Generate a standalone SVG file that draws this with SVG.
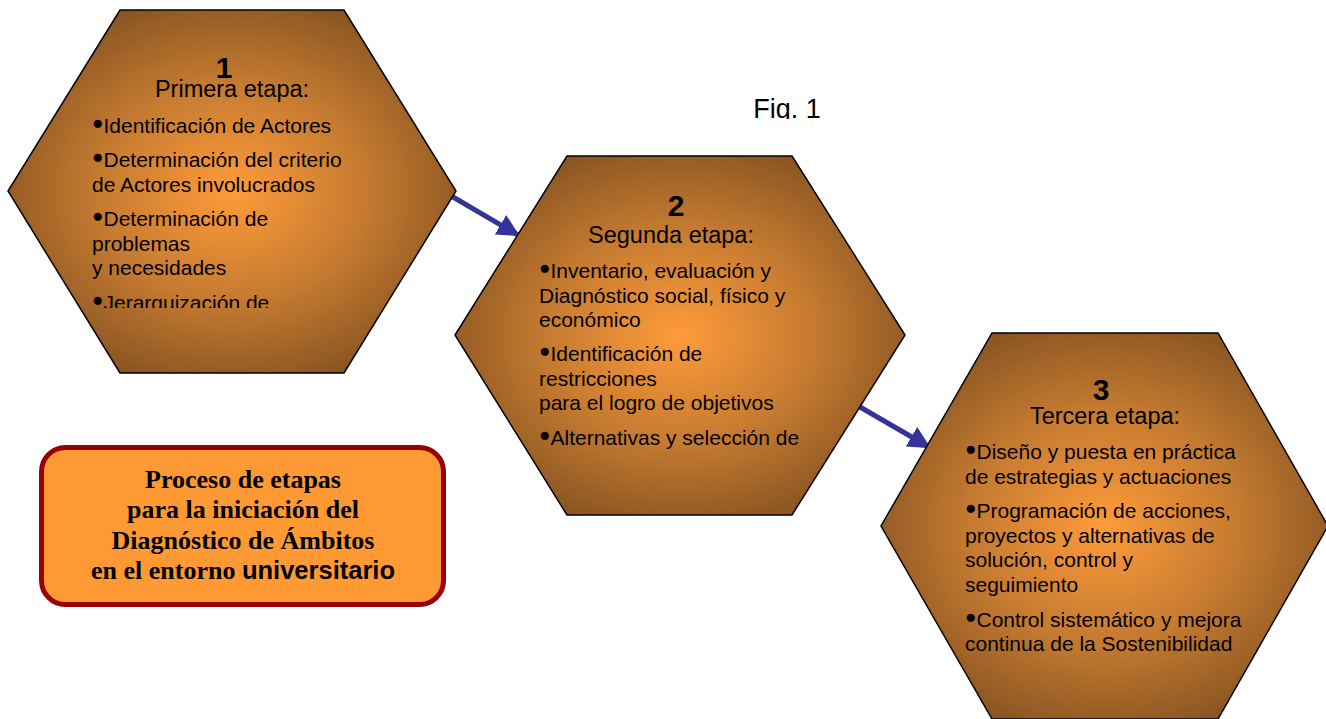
<svg xmlns="http://www.w3.org/2000/svg" width="1326" height="719" viewBox="0 0 1326 719">
<style>
.hex{stroke:#000;stroke-width:1.5;fill:url(#g)}
.num{font-family:"Liberation Sans",Arial,sans-serif;font-weight:bold;font-size:30px;fill:#000;text-anchor:middle}
.ttl{font-family:"Liberation Sans",Arial,sans-serif;font-size:23.5px;fill:#000;text-anchor:middle}
.t{font-family:"Liberation Sans",Arial,sans-serif;font-size:21px;fill:#000}
.b{font-size:19px}
.box{font-family:"Liberation Serif","Times New Roman",serif;font-weight:bold;font-size:26px;fill:#000;text-anchor:middle}
.conn{stroke:#333399;stroke-width:5;fill:none;marker-end:url(#ah)}
</style>
<defs>
<radialGradient id="g" cx="50%" cy="50%" r="55%">
<stop offset="0" stop-color="#FF9B3A"/>
<stop offset="0.55" stop-color="#C47A30"/>
<stop offset="1" stop-color="#8A5522"/>
</radialGradient>
<marker id="ah" viewBox="0 0 10 10" refX="9" refY="5" markerWidth="4.5" markerHeight="4.5" orient="auto" markerUnits="strokeWidth">
<path d="M0,0 L10,5 L0,10 z" fill="#333399"/>
</marker>
<clipPath id="c1"><rect x="0" y="0" width="460" height="308"/></clipPath>
<clipPath id="cf"><rect x="700" y="80" width="200" height="39"/></clipPath>
</defs>
<rect width="1326" height="719" fill="#fff"/>
<g id="connectors">
<line class="conn" x1="453" y1="197" x2="518" y2="235"/>
<line class="conn" x1="860" y1="407" x2="929" y2="447"/>
</g>
<g id="hex1">
<polygon class="hex" points="120,10 344,10 456,191 344,373 120,373 8,191"/>
<text class="num" x="224" y="78">1</text>
<text class="ttl" x="232" y="97">Primera etapa:</text>
<g clip-path="url(#c1)">
<text class="t" x="92" y="133"><tspan class="b" dy="-4">●</tspan><tspan dy="4">Identificación de Actores</tspan></text>
<text class="t" x="92" y="167"><tspan class="b" dy="-4">●</tspan><tspan dy="4">Determinación del criterio</tspan></text>
<text class="t" x="92" y="192">de Actores involucrados</text>
<text class="t" x="92" y="226"><tspan class="b" dy="-4">●</tspan><tspan dy="4">Determinación de</tspan></text>
<text class="t" x="92" y="251">problemas</text>
<text class="t" x="92" y="275">y necesidades</text>
<text class="t" x="92" y="310"><tspan class="b" dy="-4">●</tspan><tspan dy="4">Jerarquización de</tspan></text>
</g>
</g>
<g id="hex2">
<polygon class="hex" points="567,156 792,156 905,335 792,515 567,515 455,335"/>
<text class="num" x="676" y="216">2</text>
<text class="ttl" x="671" y="243">Segunda etapa:</text>
<text class="t" x="539" y="278"><tspan class="b" dy="-4">●</tspan><tspan dy="4">Inventario, evaluación y</tspan></text>
<text class="t" x="539" y="303">Diagnóstico social, físico y</text>
<text class="t" x="539" y="327">económico</text>
<text class="t" x="539" y="361"><tspan class="b" dy="-4">●</tspan><tspan dy="4">Identificación de</tspan></text>
<text class="t" x="539" y="386">restricciones</text>
<text class="t" x="539" y="410">para el logro de objetivos</text>
<text class="t" x="539" y="445"><tspan class="b" dy="-4">●</tspan><tspan dy="4">Alternativas y selección de</tspan></text>
</g>
<g id="hex3">
<polygon class="hex" points="992,333 1218,333 1328,526 1218,719 992,719 881,526"/>
<text class="num" x="1101" y="400">3</text>
<text class="ttl" x="1105" y="424">Tercera etapa:</text>
<text class="t" x="965" y="459"><tspan class="b" dy="-4">●</tspan><tspan dy="4">Diseño y puesta en práctica</tspan></text>
<text class="t" x="965" y="484">de estrategias y actuaciones</text>
<text class="t" x="965" y="518"><tspan class="b" dy="-4">●</tspan><tspan dy="4">Programación de acciones,</tspan></text>
<text class="t" x="965" y="543">proyectos y alternativas de</text>
<text class="t" x="965" y="567">solución, control y</text>
<text class="t" x="965" y="592">seguimiento</text>
<text class="t" x="965" y="627"><tspan class="b" dy="-4">●</tspan><tspan dy="4">Control sistemático y mejora</tspan></text>
<text class="t" x="965" y="651">continua de la Sostenibilidad</text>
</g>
<g id="title-box">
<rect x="41.5" y="447.5" width="402" height="157" rx="24" fill="#FF9933" stroke="#990000" stroke-width="5"/>
<text class="box" x="243" y="488">Proceso de etapas</text>
<text class="box" x="243" y="518">para la iniciación del</text>
<text class="box" x="243" y="549">Diagnóstico de Ámbitos</text>
<text class="box" x="243" y="579">en el entorno <tspan font-family="'Liberation Sans',Arial,sans-serif" font-size="25.5px">universitario</tspan></text>
</g>
<g id="fig-label" clip-path="url(#cf)">
<text x="787" y="118" font-family="'Liberation Sans',Arial,sans-serif" font-size="27px" fill="#000" text-anchor="middle">Fig. 1</text>
</g>
</svg>
